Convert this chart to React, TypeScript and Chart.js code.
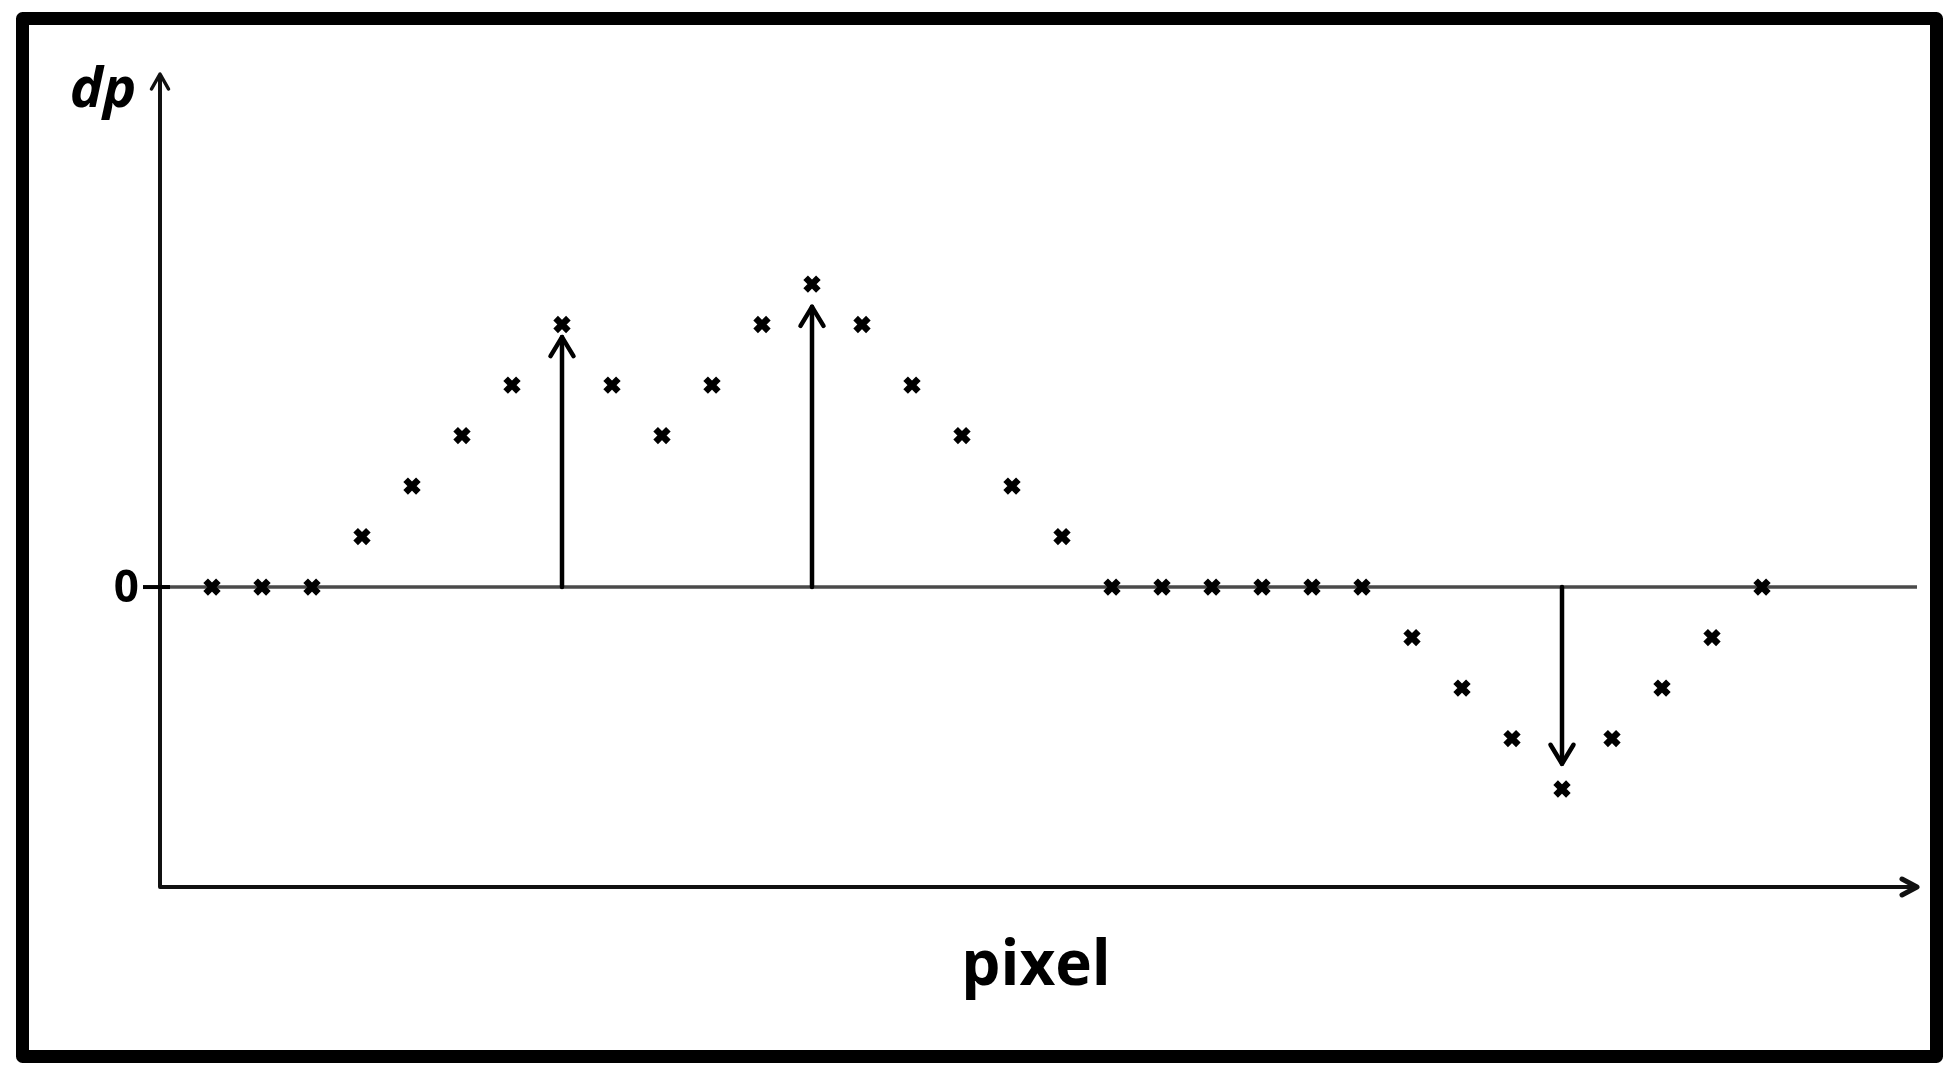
import React, { useEffect, useRef } from "react";
import { Chart, registerables } from "chart.js";

Chart.register(...registerables);

// ---- data ----
const pixelIndex = [0, 1, 2, 3, 4, 5, 6, 7, 8, 9, 10, 11, 12, 13, 14, 15, 16, 17, 18, 19, 20, 21, 22, 23, 24, 25, 26, 27, 28, 29, 30, 31];
const dpValues = [0, 0, 0, 1, 2, 3, 4, 5.2, 4, 3, 4, 5.2, 6, 5.2, 4, 3, 2, 1, 0, 0, 0, 0, 0, 0, -1, -2, -3, -4, -3, -2, -1, 0];
const arrowPixels = [7, 12, 27];
const arrowTips = [4.95, 5.55, -3.5];
const yTickValues = [0];
const yTickLabels = ["0"];
const xAxisTitle = "pixel";
const yAxisTitle = "dp";

const X_MIN = -1.04;
const X_MAX = 34.1;
const Y_MIN = -5.94;
const Y_MAX = 10.16;

function arrowHead(ctx: CanvasRenderingContext2D, tx: number, ty: number, dx: number, dy: number, len: number, half: number) {
  const bx = tx - dx * len;
  const by = ty - dy * len;
  const px = -dy;
  const py = dx;
  ctx.beginPath();
  ctx.moveTo(bx + px * half, by + py * half);
  ctx.lineTo(tx, ty);
  ctx.lineTo(bx - px * half, by - py * half);
  ctx.stroke();
}

const decorPlugin = {
  id: "decor",
  beforeDraw(chart: any) {
    const ctx = chart.ctx as CanvasRenderingContext2D;
    ctx.save();
    ctx.fillStyle = "#ffffff";
    ctx.fillRect(0, 0, chart.width, chart.height);
    ctx.restore();
  },
  beforeDatasetsDraw(chart: any) {
    const ctx = chart.ctx as CanvasRenderingContext2D;
    const xs = chart.scales.x;
    const ys = chart.scales.y;
    const area = chart.chartArea;
    const left = area.left;
    const right = area.right;
    const top = area.top;
    const bottom = area.bottom;
    ctx.save();
    ctx.lineCap = "round";
    ctx.lineJoin = "round";

    // outer frame
    ctx.strokeStyle = "#000";
    ctx.lineWidth = 13;
    ctx.strokeRect(22.5, 18.5, 1914, 1038);

    // zero line
    const y0 = ys.getPixelForValue(0);
    ctx.strokeStyle = "#4a4a4a";
    ctx.lineWidth = 3.5;
    ctx.lineCap = "butt";
    ctx.beginPath();
    ctx.moveTo(left, y0);
    ctx.lineTo(right, y0);
    ctx.stroke();

    // axes
    ctx.strokeStyle = "#111";
    ctx.lineWidth = 4;
    ctx.lineCap = "round";
    ctx.beginPath();
    ctx.moveTo(left, top + 2);
    ctx.lineTo(left, bottom);
    ctx.lineTo(right - 2, bottom);
    ctx.stroke();
    ctx.lineWidth = 3.5;
    arrowHead(ctx, left, top, 0, -1, 15, 8.5);
    ctx.lineWidth = 5;
    arrowHead(ctx, right, bottom, 1, 0, 15, 8);

    // y ticks + labels
    ctx.lineWidth = 4;
    ctx.lineCap = "butt";
    ctx.fillStyle = "#000";
    ctx.font = "bold 44px 'Open Sans'";
    ctx.textAlign = "right";
    ctx.textBaseline = "middle";
    yTickValues.forEach((v, i) => {
      const py = ys.getPixelForValue(v);
      ctx.strokeStyle = "#000";
      ctx.beginPath();
      ctx.moveTo(left - 17, py);
      ctx.lineTo(left + 10, py);
      ctx.stroke();
      ctx.fillText(yTickLabels[i], left - 21, py + 2);
    });

    // titles
    ctx.font = "italic bold 56px 'Open Sans'";
    ctx.textAlign = "center";
    ctx.textBaseline = "alphabetic";
    ctx.fillText(yAxisTitle, 103, 107);
    ctx.font = "bold 62px 'Open Sans'";
    ctx.fillText(xAxisTitle, 1036, 985);

    // annotation arrows
    ctx.strokeStyle = "#000";
    ctx.lineWidth = 4.5;
    ctx.lineCap = "round";
    arrowPixels.forEach((p, i) => {
      const px = xs.getPixelForValue(p);
      const tip = ys.getPixelForValue(arrowTips[i]);
      ctx.beginPath();
      ctx.moveTo(px, y0);
      ctx.lineTo(px, tip);
      ctx.stroke();
      const dir = tip < y0 ? -1 : 1;
      arrowHead(ctx, px, tip, 0, dir, 19, 11.5);
    });

    ctx.restore();
  },
};

export default function App() {
  const ref = useRef<HTMLCanvasElement | null>(null);
  useEffect(() => {
    if (!ref.current) return;
    const chart = new Chart(ref.current, {
      type: "scatter",
      data: {
        datasets: [
          {
            data: pixelIndex.map((x, i) => ({ x, y: dpValues[i] })),
            pointStyle: "crossRot",
            pointRadius: 9,
            pointBorderWidth: 6.5,
            borderColor: "#000",
            backgroundColor: "#000",
            showLine: false,
          },
        ],
      },
      options: {
        responsive: false,
        animation: false,
        layout: { padding: { left: 160, right: 40, top: 74, bottom: 190 } },
        scales: {
          x: { type: "linear", min: X_MIN, max: X_MAX, display: false },
          y: { type: "linear", min: Y_MIN, max: Y_MAX, display: false },
        },
        plugins: { legend: { display: false }, tooltip: { enabled: false } },
        clip: false as any,
      },
      plugins: [decorPlugin],
    });
    return () => chart.destroy();
  }, []);
  return (
    <div style={{ position: "fixed", left: 0, top: 0, width: 1957, height: 1077, background: "#fff" }}>
      <canvas ref={ref} width={1957} height={1077} style={{ display: "block", width: 1957, height: 1077 }} />
    </div>
  );
}
